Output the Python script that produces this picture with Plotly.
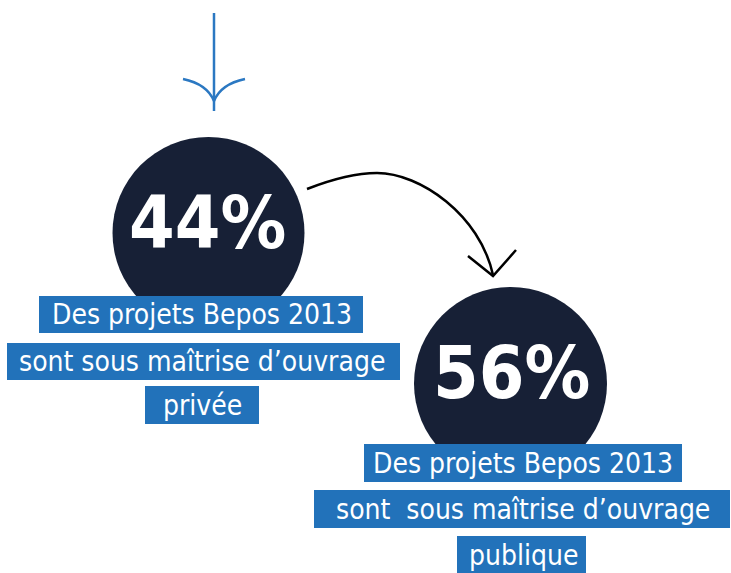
import plotly.graph_objects as go

# ---- data ----
shares = [44, 56]
share_labels = [f"{v}%" for v in shares]
caption_private = ["Des projets Bepos 2013", "sont sous maîtrise d’ouvrage", "privée"]
caption_public = ["Des projets Bepos 2013", "sont\u00a0 sous maîtrise d’ouvrage", "publique"]
captions = [caption_private, caption_public]

# ---- styles / layout ----
NAVY = "#172036"
BOX_BLUE = "#2272BA"
ARROW_BLUE = "#2B78C2"
W, H = 731, 573

circles = [  # cx, cy, r
    (208.5, 233, 96),
    (510.5, 383.5, 96.5),
]
pct_pos = [(207.5, 222), (511.5, 372)]
caption_boxes = [
    [(39, 296, 363, 333), (7, 343, 400, 380), (145, 386, 259, 424)],
    [(364, 444, 682, 482), (314, 490, 730, 528), (457, 536, 586, 574)],
]
caption_cx = [202, 523]

shapes = []
annotations = []

# blue arrow at top
shapes.append(dict(type="line", x0=214, y0=13, x1=214, y1=111,
                   line=dict(color=ARROW_BLUE, width=2.5)))
shapes.append(dict(type="path", path="M183,79 Q207,84 214,101",
                   line=dict(color=ARROW_BLUE, width=2.5)))
shapes.append(dict(type="path", path="M245,79 Q221,84 214,101",
                   line=dict(color=ARROW_BLUE, width=2.5)))

# black curved arrow
shapes.append(dict(type="path",
                   path="M307,189 C330,180 355,173 377,173 C420,173 480,215 493,275",
                   line=dict(color="black", width=2.5)))
shapes.append(dict(type="path", path="M468,256 L493,276 L516,250",
                   line=dict(color="black", width=2.5)))

for i, (cx, cy, r) in enumerate(circles):
    shapes.append(dict(type="circle", x0=cx - r, y0=cy - r, x1=cx + r, y1=cy + r,
                       fillcolor=NAVY, line=dict(width=0), layer="above"))
    annotations.append(dict(x=pct_pos[i][0], y=pct_pos[i][1], text=share_labels[i],
                            showarrow=False, xanchor="center", yanchor="middle",
                            font=dict(family="DejaVu Sans Condensed", size=73,
                                      color="white", weight="bold")))
    for j, (x0, y0, x1, y1) in enumerate(caption_boxes[i]):
        shapes.append(dict(type="rect", x0=x0, y0=y0, x1=x1, y1=y1,
                           fillcolor=BOX_BLUE, line=dict(width=0), layer="above"))
        annotations.append(dict(x=caption_cx[i], y=(y0 + y1) / 2, text=captions[i][j],
                                showarrow=False, xanchor="center", yanchor="middle",
                                font=dict(family="DejaVu Sans Condensed", size=28,
                                          color="white")))

fig = go.Figure()
fig.update_layout(
    width=W, height=H,
    margin=dict(l=0, r=0, t=0, b=0),
    paper_bgcolor="white", plot_bgcolor="white",
    xaxis=dict(range=[0, W], visible=False, fixedrange=True),
    yaxis=dict(range=[H, 0], visible=False, fixedrange=True),
    shapes=shapes, annotations=annotations, showlegend=False,
)
fig.write_html("out.html", config={"displayModeBar": False},
               post_script="document.body.style.margin='0';document.body.style.overflow='hidden';")
